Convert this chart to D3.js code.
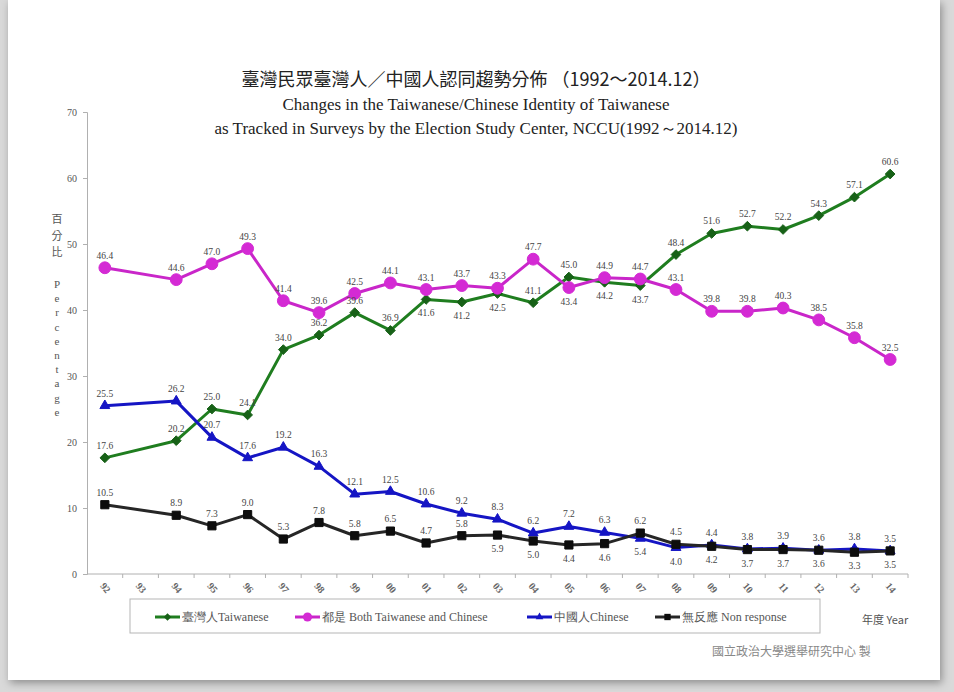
<!DOCTYPE html>
<html>
<head>
<meta charset="utf-8">
<script src="https://cdn.jsdelivr.net/npm/d3@7"></script>
<style>
  body { margin: 0; background: #d9d9d9; }
  svg { display: block; }
</style>
</head>
<body>
<svg width="954" height="692"></svg>
<script>
// categories (survey year, last two digits)
var years = ["92","93","94","95","96","97","98","99","00","01","02","03","04","05","06","07","08","09","10","11","12","13","14"];

// series values (percent), null = no survey that year
var taiwanese = [17.6,null,20.2,25.0,24.1,34.0,36.2,39.6,36.9,41.6,41.2,42.5,41.1,45.0,44.2,43.7,48.4,51.6,52.7,52.2,54.3,57.1,60.6];
var both      = [46.4,null,44.6,47.0,49.3,41.4,39.6,42.5,44.1,43.1,43.7,43.3,47.7,43.4,44.9,44.7,43.1,39.8,39.8,40.3,38.5,35.8,32.5];
var chinese   = [25.5,null,26.2,20.7,17.6,19.2,16.3,12.1,12.5,10.6,9.2,8.3,6.2,7.2,6.3,5.4,4.0,4.4,3.8,3.9,3.6,3.8,3.5];
var nonresp   = [10.5,null,8.9,7.3,9.0,5.3,7.8,5.8,6.5,4.7,5.8,5.9,5.0,4.4,4.6,6.2,4.5,4.2,3.7,3.7,3.6,3.3,3.5];

var yTicks = [0,10,20,30,40,50,60,70];
var seriesNames = ["臺灣人Taiwanese","都是 Both Taiwanese and Chinese","中國人Chinese","無反應 Non response"];

var svg = d3.select("svg");

// card with soft shadow
var defs = svg.append("defs");
var f = defs.append("filter").attr("id", "sh").attr("x", "-5%").attr("y", "-5%").attr("width", "110%").attr("height", "110%");
f.append("feDropShadow").attr("dx", 2).attr("dy", 3).attr("stdDeviation", 4).attr("flood-color", "#000").attr("flood-opacity", 0.35);
svg.append("rect").attr("x", 8).attr("y", 0).attr("width", 932).attr("height", 680)
  .attr("fill", "#fff").attr("filter", "url(#sh)");

var serif = "'Liberation Serif','Times New Roman',serif";
var cjk = "'Noto Sans CJK TC','Liberation Serif',serif";

// titles
svg.append("text").attr("x", 476).attr("y", 86).attr("text-anchor", "middle")
  .style("font-family", cjk).style("font-size", "18px").attr("fill", "#222")
  .text("臺灣民眾臺灣人／中國人認同趨勢分佈 （1992～2014.12）");
svg.append("text").attr("x", 476).attr("y", 110).attr("text-anchor", "middle")
  .style("font-family", serif).style("font-size", "17px").attr("fill", "#222")
  .text("Changes in the Taiwanese/Chinese Identity of Taiwanese");
svg.append("text").attr("x", 476).attr("y", 134).attr("text-anchor", "middle")
  .style("font-family", serif).style("font-size", "17px").attr("fill", "#222")
  .text("as Tracked in Surveys by the Election Study Center, NCCU(1992～2014.12)");

// scales
var x = d3.scaleBand().domain(years).range([87, 908]);
var y = d3.scaleLinear().domain([0, 70]).range([574, 112]);
var cx = function(d) { return x(d) + x.bandwidth() / 2; };

// y axis
var yAxis = svg.append("g").attr("transform", "translate(87,0)")
  .call(d3.axisLeft(y).tickValues(yTicks).tickSize(4).tickPadding(6));
yAxis.select(".domain").attr("stroke", "#b0b0b0");
yAxis.selectAll(".tick line").attr("stroke", "#b0b0b0");
yAxis.selectAll("text").style("font-family", serif).style("font-size", "10px").attr("fill", "#555");

// x axis, ticks at band boundaries
var xAxis = svg.append("g").attr("transform", "translate(0,574)");
xAxis.append("line").attr("x1", 87).attr("x2", 908).attr("stroke", "#b0b0b0");
xAxis.selectAll("line.tk").data(years.slice(1).concat(["end"])).enter().append("line")
  .attr("class", "tk")
  .attr("x1", function(d, i) { return x(years[0]) + (i + 1) * x.bandwidth(); })
  .attr("x2", function(d, i) { return x(years[0]) + (i + 1) * x.bandwidth(); })
  .attr("y1", 0).attr("y2", 4).attr("stroke", "#b0b0b0");
xAxis.selectAll("text").data(years).enter().append("text")
  .attr("transform", function(d) { return "translate(" + (cx(d) - 2) + ",16) rotate(50)"; })
  .attr("text-anchor", "middle")
  .style("font-family", serif).style("font-size", "10px").style("font-weight", "bold").attr("fill", "#666")
  .text(function(d) { return d; });

// y axis label
var ylab = svg.append("g").style("font-family", serif).attr("fill", "#555");
["百","分","比"].forEach(function(c, i) {
  ylab.append("text").attr("x", 57).attr("y", 223 + i * 16.5).attr("text-anchor", "middle")
    .style("font-family", cjk).style("font-size", "11px").text(c);
});
"Percentage".split("").forEach(function(c, i) {
  ylab.append("text").attr("x", 57).attr("y", 288 + i * 14.2).attr("text-anchor", "middle")
    .style("font-size", "11px").text(c);
});

// series
var series = [
  {name: seriesNames[0], values: taiwanese, line: "#1f7d1f", fill: "#176117", sym: d3.symbolDiamond2, size: 60},
  {name: seriesNames[1], values: both, line: "#c926c9", fill: "#d42ad4", sym: d3.symbolCircle, size: 110},
  {name: seriesNames[2], values: chinese, line: "#1515c4", fill: "#1515c4", sym: d3.symbolTriangle2, size: 70},
  {name: seriesNames[3], values: nonresp, line: "#262626", fill: "#0d0d0d", sym: d3.symbolSquare2, size: 85}
];

var line = d3.line()
  .defined(function(d) { return d.v != null; })
  .x(function(d) { return cx(d.k); })
  .y(function(d) { return y(d.v); });

series.forEach(function(s) {
  var pts = years.map(function(k, i) { return {k: k, v: s.values[i]}; }).filter(function(d) { return d.v != null; });
  svg.append("path").datum(pts).attr("d", line)
    .attr("fill", "none").attr("stroke", s.line).attr("stroke-width", 3).attr("stroke-linejoin", "round");
  svg.selectAll(null).data(pts).enter().append("path")
    .attr("transform", function(d) { return "translate(" + cx(d.k) + "," + y(d.v) + ")"; })
    .attr("d", d3.symbol().type(s.sym).size(s.size))
    .attr("fill", s.fill).attr("stroke", s.fill).attr("stroke-width", 1);
});

// value labels: put below when another series sits just above at the same year
series.forEach(function(s, si) {
  years.forEach(function(k, i) {
    var v = s.values[i];
    if (v == null) return;
    var below = series.some(function(o, oi) {
      if (oi === si) return false;
      var w = o.values[i];
      return (w > v || (w === v && oi < si)) && (w - v) < 2.85;
    });
    svg.append("text")
      .attr("x", cx(k)).attr("y", y(v) + (below ? 17 : -9))
      .attr("text-anchor", "middle")
      .style("font-family", serif).style("font-size", "9.5px").attr("fill", "#444")
      .text(d3.format(".1f")(v));
  });
});

// legend
var lg = svg.append("g");
lg.append("rect").attr("x", 130).attr("y", 599).attr("width", 690).attr("height", 34)
  .attr("fill", "#fff").attr("stroke", "#b5b5b5");
var legX = [155, 295, 527, 655];
series.forEach(function(s, i) {
  var g = lg.append("g").attr("transform", "translate(" + legX[i] + ",617)");
  g.append("line").attr("x1", 0).attr("x2", 25).attr("stroke", s.line).attr("stroke-width", 3);
  g.append("path").attr("transform", "translate(12.5,0)")
    .attr("d", d3.symbol().type(s.sym).size(s.size * 0.6)).attr("fill", s.fill);
  g.append("text").attr("x", 27).attr("y", 4)
    .style("font-family", serif).style("font-size", "12px").attr("fill", "#555")
    .text(s.name);
});

svg.append("text").attr("x", 862).attr("y", 624)
  .style("font-family", cjk).style("font-size", "11px").attr("fill", "#555").text("年度 Year");

svg.append("text").attr("x", 712).attr("y", 656)
  .style("font-family", cjk).style("font-size", "12px").attr("fill", "#888")
  .text("國立政治大學選舉研究中心 製");
</script>
</body>
</html>
